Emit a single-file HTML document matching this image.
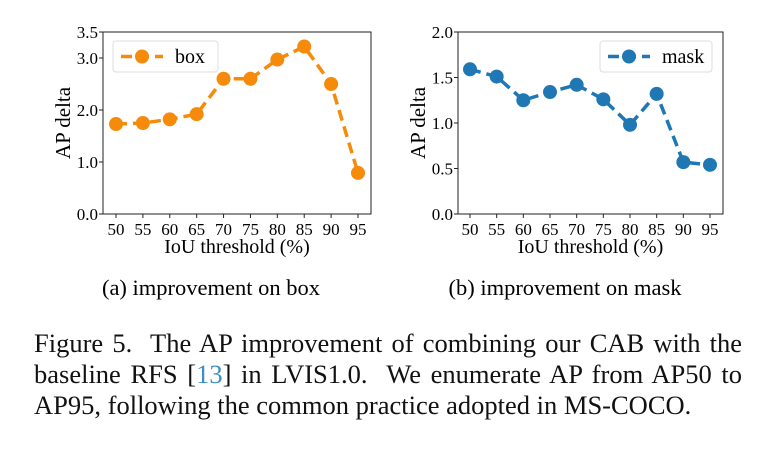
<!DOCTYPE html>
<html><head><meta charset="utf-8"><style>
body{margin:0;width:770px;height:456px;background:#fff;overflow:hidden;font-family:"Liberation Serif",serif;}
svg text{font-family:"Liberation Serif",serif;}
#cap{position:absolute;left:34px;top:328px;width:708px;font-size:26.5px;line-height:31px;color:#111;}
#cap div{text-align:justify;text-align-last:justify;white-space:nowrap;}
#cap div.last{text-align-last:left;}
#cap a{color:#3a8fc8;text-decoration:none;}
</style></head><body>
<svg id="chart" width="770" height="456" style="position:absolute;left:0;top:0"></svg>
<div id="cap">
<div>Figure 5.&nbsp; The AP improvement of combining our CAB with the</div>
<div>baseline RFS [<a>13</a>] in LVIS1.0.&nbsp; We enumerate AP from AP50 to</div>
<div class="last">AP95, following the common practice adopted in MS-COCO.</div>
</div>
<script>
const categories=[50,55,60,65,70,75,80,85,90,95];
const boxValues=[1.73,1.75,1.82,1.92,2.6,2.6,2.97,3.22,2.5,0.79];
const maskValues=[1.59,1.51,1.25,1.34,1.42,1.26,0.98,1.32,0.57,0.54];
const boxTicks=[0,1,2,3,3.5];
const maskTicks=[0,0.5,1,1.5,2];
const svg=document.getElementById('chart');
const NS='http://www.w3.org/2000/svg';
function mk(tag,attrs,parent){const e=document.createElementNS(NS,tag);for(const k in attrs)e.setAttribute(k,attrs[k]);(parent||svg).appendChild(e);return e;}
function panel(o){
  const g=mk('g',{});
  
  
  const xs=v=>o.x0+o.px0+(v-categories[0])/(categories[categories.length-1]-categories[0])*(o.px1-o.px0);
  const ys=v=>o.y1-(v-0)/(o.ymax)*(o.y1-o.y0);
  const frame=mk('rect',{x:o.x0,y:o.y0,width:o.x1-o.x0,height:o.y1-o.y0,fill:'none',stroke:'#222','stroke-width':1},g);
  
  
  o.ticks.forEach(t=>{
    mk('line',{x1:o.x0-4,x2:o.x0,y1:ys(t),y2:ys(t),stroke:'#222'},g);
    const tx=mk('text',{x:o.x0-5,y:ys(t)+6,'text-anchor':'end','font-size':17},g);
    tx.textContent=t.toFixed(1);
    
    
  });
  categories.forEach(c=>{
    mk('line',{x1:xs(c),x2:xs(c),y1:o.y1,y2:o.y1+4,stroke:'#222'},g);
    const tx=mk('text',{x:xs(c),y:o.y1+21,'text-anchor':'middle','font-size':17},g);
    tx.textContent=c;
    
    
  });
  const pts=o.vals.map((v,i)=>xs(categories[i])+','+ys(v)).join(' ');
  const line=mk('polyline',{points:pts,fill:'none',stroke:o.color,'stroke-width':3.5,'stroke-dasharray':'11,6'},g);
  
  
  o.vals.forEach((v,i)=>{
    const c=mk('circle',{cx:xs(categories[i]),cy:ys(v),r:7,fill:o.color},g);
    
    
  });
  const xl=mk('text',{x:(o.x0+o.x1)/2,y:o.y1+39,'text-anchor':'middle','font-size':20},g);
  xl.textContent='IoU threshold (%)';
  
  
  const yl=mk('text',{x:0,y:0,'text-anchor':'middle','font-size':21,transform:`translate(${o.x0-33},${(o.y0+o.y1)/2}) rotate(-90)`},g);
  yl.textContent='AP delta';
  
  
  const lg=mk('g',{},g);
  
  
  mk('rect',{x:o.lx,y:41,width:o.lw,height:31,rx:3,fill:'#fff',stroke:'#ddd'},lg);
  mk('line',{x1:o.lx+8,x2:o.lx+50,y1:56.5,y2:56.5,stroke:o.color,'stroke-width':3.5,'stroke-dasharray':'11,6'},lg);
  mk('circle',{cx:o.lx+29,cy:56.5,r:7,fill:o.color},lg);
  const lt=mk('text',{x:o.lx+62,y:63,'font-size':20},lg);
  lt.textContent=o.name;
  
  
  const cp=mk('text',{x:o.capX,y:295,'text-anchor':'middle','font-size':22.5},g);
  cp.textContent=o.caption;
  
  
}
panel({name:'box',x0:103,x1:371,y0:32,y1:214,px0:13,px1:255,ymax:3.5,ticks:boxTicks,vals:boxValues,color:'#f58a0b',lx:113,lw:105,capX:211,caption:'(a) improvement on box'});
panel({name:'mask',x0:458,x1:723,y0:32,y1:214,px0:12,px1:252,ymax:2.0,ticks:maskTicks,vals:maskValues,color:'#1f77b4',lx:600,lw:112,capX:565,caption:'(b) improvement on mask'});
</script>
</body></html>
